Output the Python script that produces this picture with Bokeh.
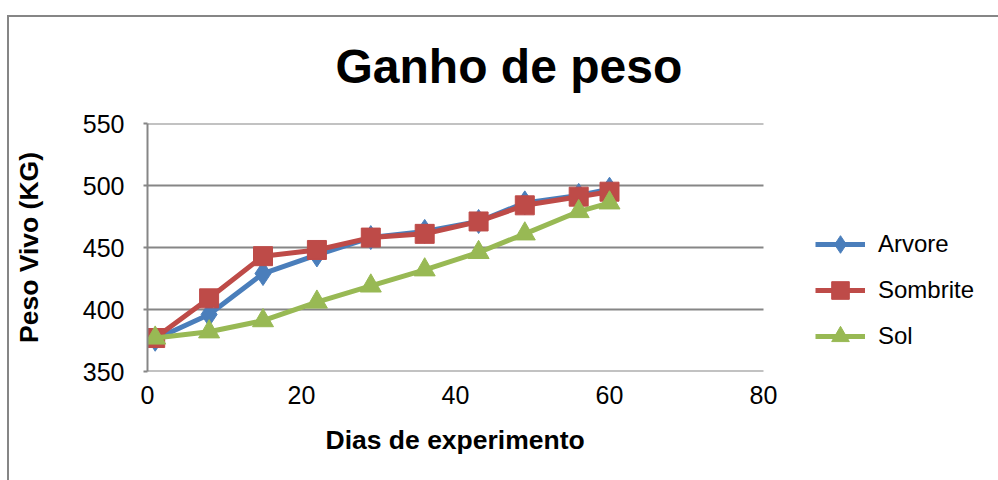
from bokeh.plotting import figure
from bokeh.models import FixedTicker, Legend, LegendItem, Range1d, InlineStyleSheet, Title
from bokeh.embed import file_html
from bokeh.resources import INLINE

days = [1, 8, 15, 22, 29, 36, 43, 49, 56, 60]
arvore = [376, 396, 429, 444, 458, 463, 471, 486, 492, 497]
sombrite = [377, 409, 443, 448, 458, 461, 471, 484, 491, 495]
sol = [377, 382, 391, 406, 419, 432, 446, 461, 479, 486]
x_ticks = [0, 20, 40, 60, 80]
y_ticks = [350, 400, 450, 500, 550]

FONT = "Liberation Sans"
GRAY = "#868686"

# plot area spans x 0..80 over 616 px; the frame is widened to the window edge
# so the legend (drawn inside the frame) is not clipped
x_end = x_ticks[-1] * (998 - 147) / 616

p = figure(width=998, height=480, output_backend="svg", toolbar_location=None,
           x_range=Range1d(0, x_end), y_range=Range1d(350, 550),
           min_border_left=147, min_border_right=0, min_border_top=123, min_border_bottom=109)

p.title.text = "Ganho de peso"
p.title.text_font = FONT
p.title.text_font_size = "48px"
p.title.text_font_style = "bold"
p.title.text_color = "black"
p.title.align = "left"
p.title.offset = 188
p.title.standoff = 62

p.outline_line_color = None
p.xgrid.grid_line_color = None
p.ygrid.grid_line_color = None

# horizontal gridlines (and bottom axis line) limited to x 0..80
p.segment(x0=[x_ticks[0]] * len(y_ticks), x1=[x_ticks[-1]] * len(y_ticks),
          y0=y_ticks, y1=y_ticks, line_color=GRAY, line_width=2)

p.xaxis.ticker = FixedTicker(ticks=x_ticks)
p.yaxis.ticker = FixedTicker(ticks=y_ticks)
for ax in (p.xaxis[0], p.yaxis[0]):
    ax.axis_line_color = GRAY
    ax.axis_line_width = 2
    ax.major_tick_line_color = GRAY
    ax.major_tick_line_width = 2
    ax.minor_tick_line_color = None
    ax.major_label_text_font = FONT
    ax.major_label_text_font_size = "25px"
    ax.major_label_text_color = "black"
    ax.axis_label_text_font = FONT
    ax.axis_label_text_font_size = "26.5px"
    ax.axis_label_text_font_style = "bold"
    ax.axis_label_text_color = "black"
p.xaxis.axis_line_color = None
p.xaxis.major_tick_out = 0
p.xaxis.major_tick_in = 0
p.yaxis.major_tick_out = 4
p.yaxis.major_tick_in = 0
p.xaxis.major_label_standoff = 14
p.yaxis.major_label_standoff = 19
p.yaxis.axis_label = "Peso Vivo (KG)"
p.yaxis.axis_label_standoff = 36

xlabel = Title(text="Dias de experimento", align="left", offset=178,
               vertical_align="top", standoff=36,
               text_font=FONT, text_font_size="26.5px", text_font_style="bold",
               text_color="black")
p.add_layout(xlabel, "below")

series = [
    ("Arvore", arvore, "#4A7EBB", "diamond", 24),
    ("Sombrite", sombrite, "#BE4B48", "square", 19),
    ("Sol", sol, "#98B954", "triangle", 21),
]
items = []
for name, vals, col, mk, sz in series:
    r1 = p.line(days, vals, line_color=col, line_width=5)
    r2 = p.scatter(days, vals, marker=mk, size=sz, fill_color=col, line_color=col)
    items.append(LegendItem(label=name, renderers=[r1, r2]))

legend = Legend(items=items, location=(668, 13), padding=0, margin=0,
                border_line_color=None, background_fill_alpha=0,
                label_text_font=FONT, label_text_font_size="24px",
                label_text_color="black",
                glyph_width=50, glyph_height=44, label_height=26,
                spacing=2, label_standoff=13)
p.add_layout(legend, "center")

p.stylesheets = [InlineStyleSheet(css=(
    ":host::after { content: ''; position: absolute; left: 7px; top: 15px; "
    "width: 991px; height: 465px; border-left: 2.5px solid #868686; "
    "border-top: 2.5px solid #868686; pointer-events: none; box-sizing: border-box; }"
))]

open("out.html", "w").write(file_html(p, INLINE))
